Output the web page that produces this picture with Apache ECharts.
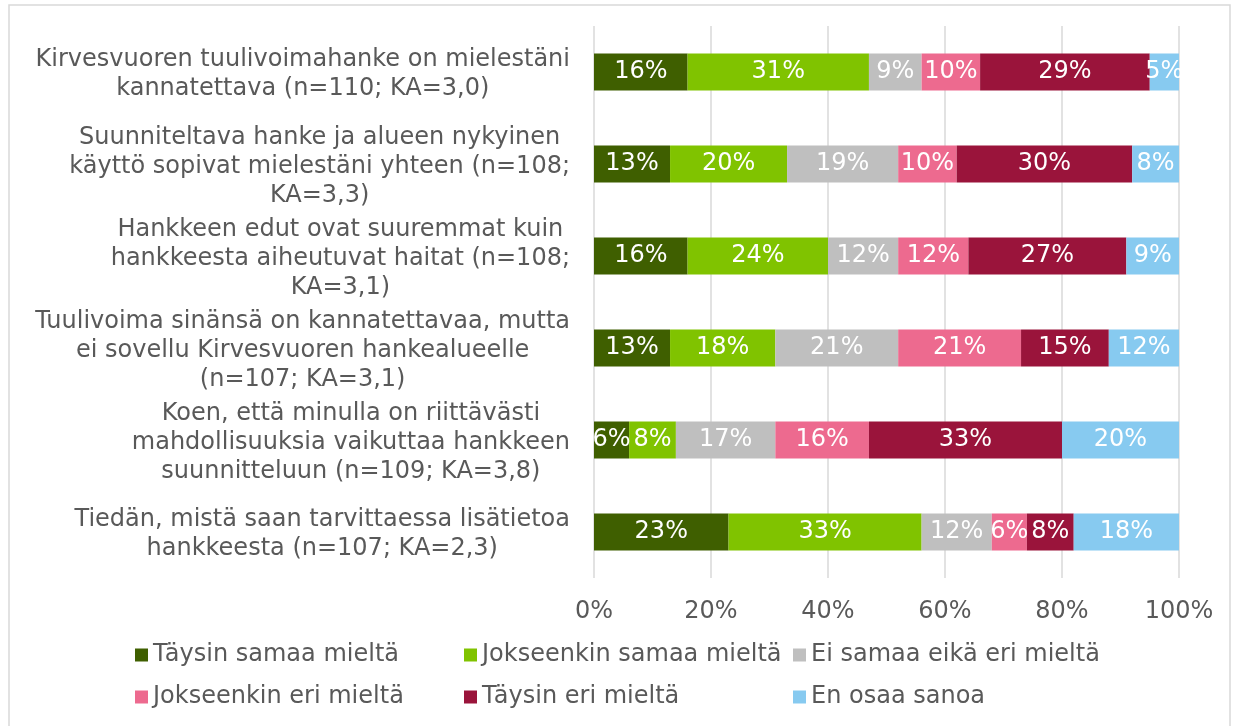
<!DOCTYPE html>
<html>
<head>
<meta charset="utf-8">
<style>
  html, body { margin: 0; padding: 0; background: #fff; }
  #chart { width: 1233px; height: 726px; }
</style>
<script src="https://cdn.jsdelivr.net/npm/echarts@6/dist/echarts.min.js"></script>
</head>
<body>
<div id="chart"></div>
<script>
var questions = [
  'Kirvesvuoren tuulivoimahanke on mielestäni\nkannatettava (n=110; KA=3,0)',
  'Suunniteltava hanke ja alueen nykyinen\nkäyttö sopivat mielestäni yhteen (n=108;\nKA=3,3)',
  'Hankkeen edut ovat suuremmat kuin\nhankkeesta aiheutuvat haitat (n=108;\nKA=3,1)',
  'Tuulivoima sinänsä on kannatettavaa, mutta\nei sovellu Kirvesvuoren hankealueelle\n(n=107; KA=3,1)',
  'Koen, että minulla on riittävästi\nmahdollisuuksia vaikuttaa hankkeen\nsuunnitteluun (n=109; KA=3,8)',
  'Tiedän, mistä saan tarvittaessa lisätietoa\nhankkeesta (n=107; KA=2,3)'
];

var answers = ['Täysin samaa mieltä', 'Jokseenkin samaa mieltä', 'Ei samaa eikä eri mieltä',
  'Jokseenkin eri mieltä', 'Täysin eri mieltä', 'En osaa sanoa'];

// % per kysymys, järjestys kuten questions
var taysinSamaa     = [16, 13, 16, 13, 6, 23];
var jokseenkinSamaa = [31, 20, 24, 18, 8, 33];
var eiSamaaEiEri    = [9, 19, 12, 21, 17, 12];
var jokseenkinEri   = [10, 10, 12, 21, 16, 6];
var taysinEri       = [29, 30, 27, 15, 33, 8];
var enOsaa          = [5, 8, 9, 12, 20, 18];

var xTicks = [0, 20, 40, 60, 80, 100];

(function () {
  var myChart = echarts.init(document.getElementById('chart'));
  var font = 'DejaVu Sans';
  var colors = ['#3f5f00', '#80c300', '#bfbfbf', '#ed6a8f', '#9a143b', '#87caf0'];
  var values = [taysinSamaa, jokseenkinSamaa, eiSamaaEiEri, jokseenkinEri, taysinEri, enOsaa];

  // legenda: kolme saraketta, kaksi riviä
  var legendPos = [[135, 643], [464, 643], [793, 643], [135, 685], [464, 685], [793, 685]];
  var legends = answers.map(function (name, i) {
    return {
      data: [name],
      left: legendPos[i][0],
      top: legendPos[i][1],
      padding: 0,
      itemWidth: 13,
      itemHeight: 13,
      itemGap: 0,
      icon: 'rect',
      textStyle: { color: '#595959', fontSize: 24, fontFamily: font }
    };
  });

  var series = answers.map(function (name, i) {
    return {
      name: name,
      type: 'bar',
      stack: 'total',
      barWidth: '40%',
      data: values[i],
      itemStyle: { color: colors[i] },
      label: {
        show: true,
        position: 'inside',
        color: '#fff',
        fontSize: 24,
        fontFamily: font,
        formatter: '{c}%'
      },
      emphasis: { disabled: true }
    };
  });

  var option = {
    animation: false,
    color: colors,
    legend: legends,
    grid: {
      left: 594,
      right: 54,
      top: 26,
      bottom: 148,
      outerBoundsMode: 'none'
    },
    xAxis: {
      type: 'value',
      min: xTicks[0],
      max: xTicks[xTicks.length - 1],
      interval: xTicks[1] - xTicks[0],
      axisLine: { show: false },
      axisTick: { show: false },
      axisLabel: {
        color: '#595959',
        fontSize: 24,
        fontFamily: font,
        margin: 22,
        formatter: '{value}%'
      },
      splitLine: { lineStyle: { color: '#d9d9d9', width: 1.5 } }
    },
    yAxis: {
      type: 'category',
      inverse: true,
      data: questions,
      axisLine: { show: false },
      axisTick: { show: false },
      axisLabel: {
        interval: 0,
        margin: 24,
        align: 'right',
        padding: [5, 0, 0, 0],
        formatter: function (v) {
          return v.split('\n').map(function (l) { return '{c|' + l + '}'; }).join('\n');
        },
        rich: {
          c: { align: 'center', color: '#595959', fontSize: 24, fontFamily: font, lineHeight: 29 }
        }
      }
    },
    graphic: [{
      type: 'rect',
      silent: true,
      shape: { x: 9, y: 5, width: 1221, height: 760 },
      style: { fill: 'none', stroke: '#d9d9d9', lineWidth: 1.5 }
    }],
    series: series
  };

  myChart.setOption(option);
  window.addEventListener('resize', function () {
    myChart.resize();
  });
})();
</script>
</body>
</html>
